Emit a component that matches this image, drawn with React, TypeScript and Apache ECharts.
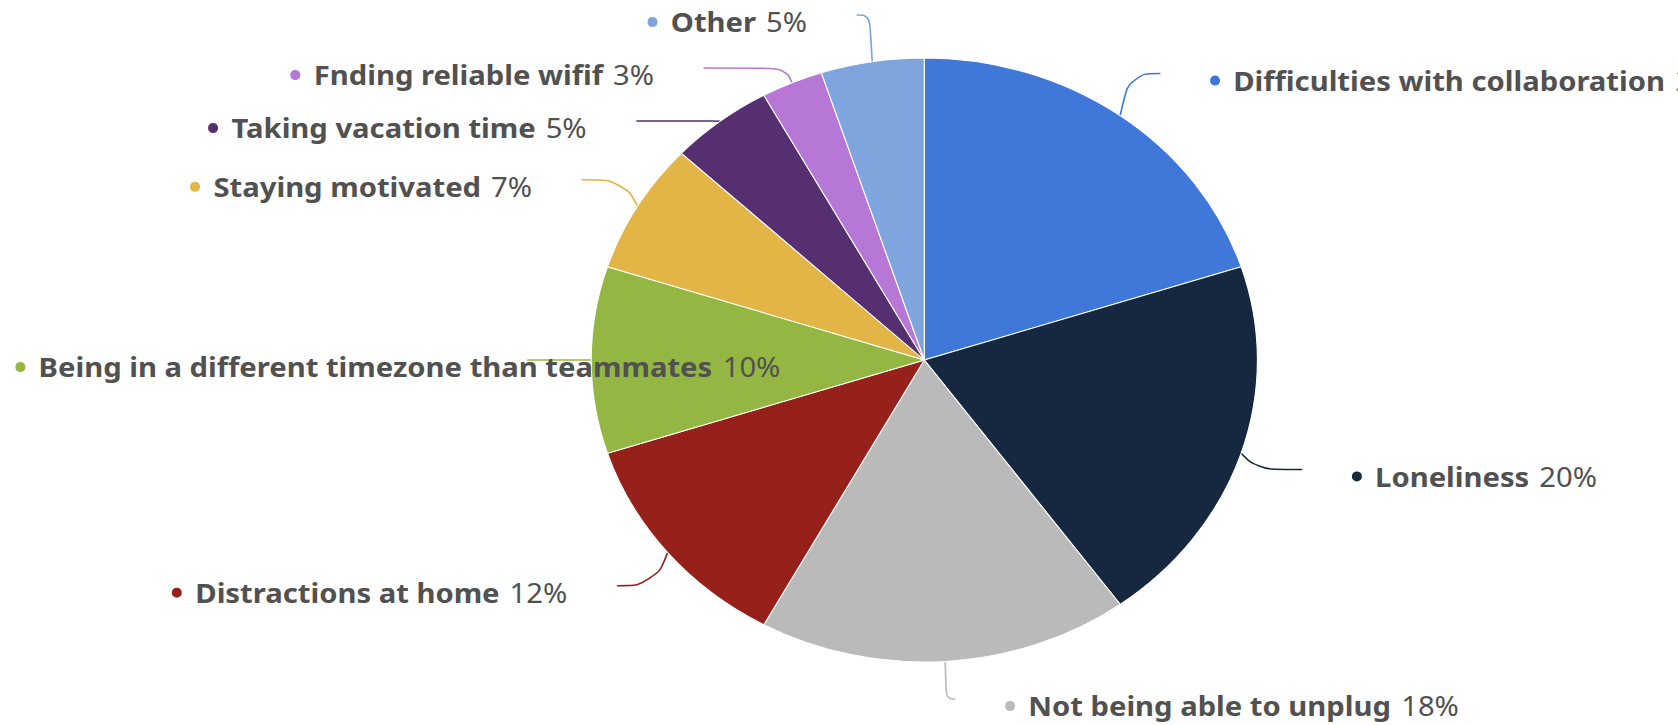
import React, { useEffect, useRef } from 'react';
import * as echarts from 'echarts';

const categories = [
  'Difficulties with collaboration',
  'Loneliness',
  'Not being able to unplug',
  'Distractions at home',
  'Being in a different timezone than teammates',
  'Staying motivated',
  'Taking vacation time',
  'Fnding reliable wifif',
  'Other',
];
const shares = [20, 20, 18, 12, 10, 7, 5, 3, 5];
const colors = ['#3F78D8', '#16283F', '#BABABA', '#96211B', '#93B742', '#E3B446', '#552F6F', '#B677D6', '#7EA5DE'];

const STRETCH = 1.103;
const WIDTH = 1678;
const HEIGHT = 725;
const FONT = '"Noto Sans", "DejaVu Sans", sans-serif';
const FONT_SIZE = 26.5;
const TEXT_COLOR = '#515151';

// pie geometry (chart coordinates, before the horizontal stretch)
const CX = 838;
const CY = 360;
const R = 302;
const LEN = 52; // distance from pie edge to label line end
const GAP = 45; // gap between line end and label
const SLOT = 53; // minimum vertical spacing of labels
const TOP = 15;
const BOTTOM = 699;

function computeLabelPlacement() {
  const total = shares.reduce((a, b) => a + b, 0);
  let cum = 0;
  const items = shares.map((v, i) => {
    const mid = ((cum + v / 2) / total) * Math.PI * 2;
    cum += v;
    const s = Math.sin(mid);
    const c = Math.cos(mid);
    return { i, s, c, side: s >= 0 ? 1 : -1, yN: CY - (R + LEN) * c, y: 0 };
  });
  [1, -1].forEach((side) => {
    const list = items.filter((it) => it.side === side).sort((a, b) => a.yN - b.yN);
    let prev = -Infinity;
    list.forEach((it) => {
      it.y = Math.max(it.yN, TOP, prev + SLOT);
      prev = it.y;
    });
    let next = Infinity;
    for (let k = list.length - 1; k >= 0; k--) {
      const it = list[k];
      it.y = Math.min(it.y, BOTTOM, next - SLOT);
      next = it.y;
    }
  });
  return items.map((it) => {
    const RR = R + LEN;
    const dy = it.y - CY;
    const moved = Math.abs(it.y - it.yN) > 20;
    const dx = moved ? Math.sqrt(Math.max(0, RR * RR - dy * dy)) : RR * Math.abs(it.s) + 6;
    const ex = CX + R * it.s;
    const ey = CY - R * it.c;
    const lx = CX + it.side * dx;
    const ly = it.y;
    const bx = ex + it.s * 15;
    return {
      points: [
        [ex, ey],
        [bx, ly],
        [lx, ly],
      ],
      textX: lx + it.side * GAP,
      textY: ly + 7,
      side: it.side,
    };
  });
}

export default function App() {
  const ref = useRef<HTMLDivElement>(null);
  useEffect(() => {
    if (!ref.current) return;
    const chart = echarts.init(ref.current, null, { renderer: 'svg' });
    const ctx = document.createElement('canvas').getContext('2d');
    const fullWidth = (i: number) => {
      if (!ctx) return 0;
      ctx.font = `bold ${FONT_SIZE}px ${FONT}`;
      let w = ctx.measureText(categories[i]).width;
      ctx.font = `${FONT_SIZE}px ${FONT}`;
      w += ctx.measureText(shares[i] + '%').width;
      return w + 9 + 12 + 9;
    };
    const placement = computeLabelPlacement();
    const rich: Record<string, any> = {
      n: { fontFamily: FONT, fontSize: FONT_SIZE, fontWeight: 'bold', color: TEXT_COLOR, padding: [0, 0, 0, 12] },
      p: { fontFamily: FONT, fontSize: FONT_SIZE, fontWeight: 'normal', color: TEXT_COLOR, padding: [0, 0, 0, 9] },
    };
    colors.forEach((c, i) => {
      rich['d' + i] = { width: 9, height: 10, borderRadius: 5, backgroundColor: c };
    });
    const option: any = {
      animation: false,
      backgroundColor: '#ffffff',
      series: [
        {
          type: 'pie',
          center: [CX, CY],
          radius: R,
          startAngle: 90,
          clockwise: true,
          avoidLabelOverlap: false,
          silent: true,
          itemStyle: { borderColor: '#ffffff', borderWidth: 1 },
          label: {
            show: true,
            position: 'outside',
            alignTo: 'none',
            overflow: 'none',
            distanceToLabelLine: GAP,
            formatter: (p: any) => `{d${p.dataIndex}| }{n|${p.name}}{p|${p.value}%}`,
            rich,
          },
          labelLine: { show: true, length: 40, length2: 12, smooth: 0.45, lineStyle: { width: 1.5 } },
          labelLayout: (params: any) => {
            const pl = placement[params.dataIndex];
            if (!pl) return {};
            let x = pl.textX;
            let align = pl.side > 0 ? 'left' : 'right';
            if (pl.side < 0 && pl.textX - fullWidth(params.dataIndex) < 10) {
              x = 14;
              align = 'left';
            }
            return { x, y: pl.textY, align, verticalAlign: 'middle', labelLinePoints: pl.points };
          },
          emphasis: { disabled: true },
          data: categories.map((name, i) => ({ name, value: shares[i], itemStyle: { color: colors[i] } })),
        },
      ],
    };
    chart.setOption(option);
    return () => chart.dispose();
  }, []);
  return (
    <div style={{ position: 'fixed', left: 0, top: 0, width: WIDTH, height: HEIGHT, overflow: 'hidden', background: '#fff' }}>
      <div
        ref={ref}
        style={{ width: WIDTH / STRETCH, height: HEIGHT, transform: `scaleX(${STRETCH})`, transformOrigin: '0 0' }}
      />
    </div>
  );
}
